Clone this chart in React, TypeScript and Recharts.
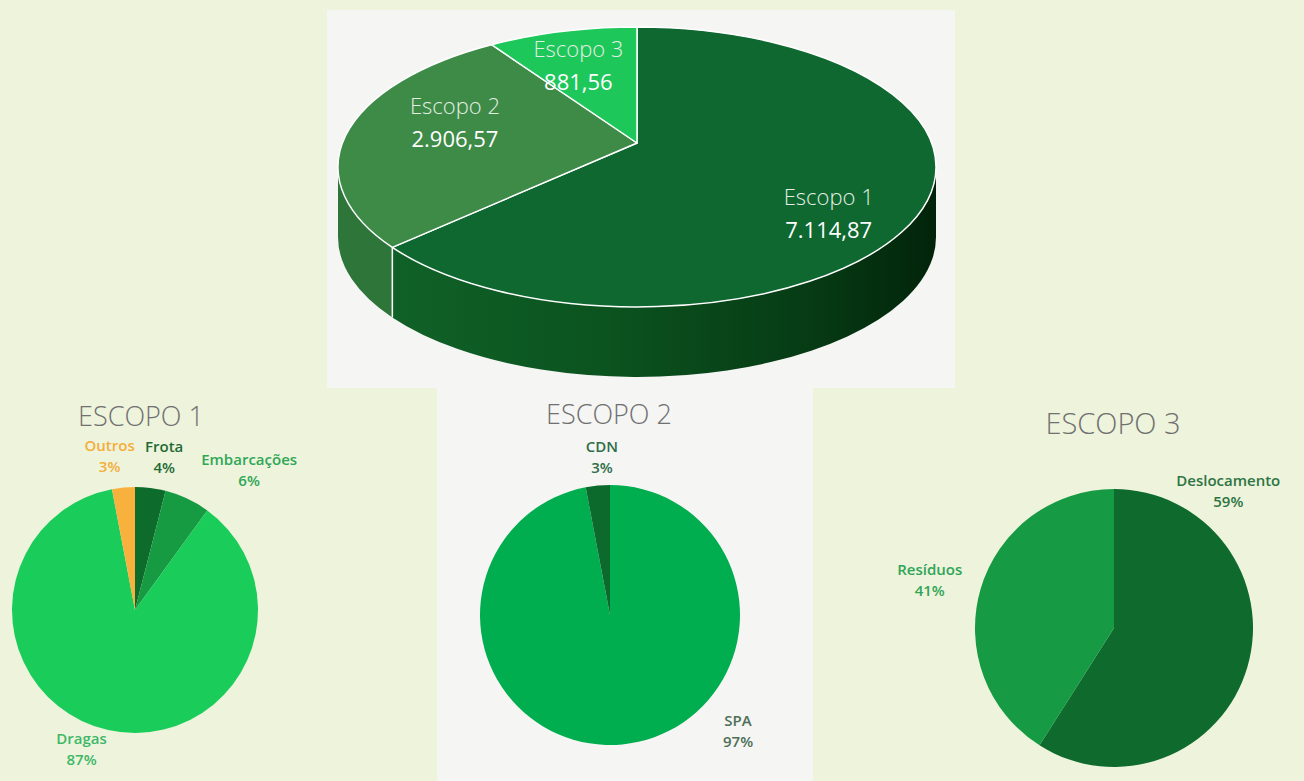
import React from "react";
import { PieChart, Pie, Cell } from "recharts";

// emissões totais por escopo
const scopeNames = ["Escopo 1", "Escopo 2", "Escopo 3"];
const scopeValues = [7114.87, 2906.57, 881.56];

// detalhamento (%)
const scope1Names = ["Frota", "Embarcações", "Dragas", "Outros"];
const scope1Values = [4, 6, 87, 3];

const scope2Names = ["SPA", "CDN"];
const scope2Values = [97, 3];

const scope3Names = ["Deslocamento", "Resíduos"];
const scope3Values = [59, 41];

const PAGE_BG = "#EEF3DC";
const BOX_BG = "#F5F5F4";
const FONT = "'Open Sans', 'Noto Sans', sans-serif";
const NO_MARGIN = { top: 0, right: 0, bottom: 0, left: 0 };

const TILT = 0.468;
const DEPTH = 70;
const LIFT = 24;
const RAD = Math.PI / 180;

const topColors = ["#0E6830", "#3D8B47", "#1EC75A"];
const sideColors = ["url(#side-grad-0)", "#2E753A", "#17A04A"];
const topLabelNudge = [
	[6, 0],
	[22, -24],
	[-6, -8],
];

const s1Colors = ["#0D6B2B", "#169B43", "#1ACD5B", "#F9B13D"];
const s1Text = ["#1E6B34", "#2FA757", "#3DB868", "#F4AE3A"];
const s1Nudge = [
	[10, -2],
	[49, -2],
	[-20, -11],
	[-11, -2],
];

const s2Colors = ["#00AD4F", "#0D6A2D"];
const s2Text = ["#4D6F57", "#2F6E46"];
const s2Nudge = [
	[113, -44],
	[7, 1],
];

const s3Colors = ["#0E6A2D", "#169A44"];
const s3Text = ["#2D7443", "#2FA557"];
const s3Nudge = [
	[-48, -185],
	[-22, -1],
];

const fmtBR = (n: number) => {
	const [i, d] = n.toFixed(2).split(".");
	return i.replace(/\B(?=(\d{3})+(?!\d))/g, ".") + "," + d;
};

const toRows = (names: string[], values: number[]) =>
	names.map((name, i) => ({ name, value: values[i] }));

const ell = (cx: number, cy: number, rx: number, ry: number, a: number) => [
	cx + rx * Math.cos(a * RAD),
	cy - ry * Math.sin(a * RAD),
];

const nameOf = (p: any) => p.name ?? p.payload?.name;

// fatia com tampo elíptico e parede frontal
const Slice3D = (props: any) => {
	const { cx, cy, outerRadius, startAngle, endAngle, fill } = props;
	const idx = Math.max(0, scopeNames.indexOf(nameOf(props)));
	const rx = outerRadius;
	const ry = outerRadius * TILT;
	const [sx, sy] = ell(cx, cy, rx, ry, startAngle);
	const [ex, ey] = ell(cx, cy, rx, ry, endAngle);
	const large = Math.abs(startAngle - endAngle) > 180 ? 1 : 0;
	const sweep = endAngle < startAngle ? 1 : 0;
	const top = `M${cx},${cy - LIFT}L${sx},${sy}A${rx},${ry} 0 ${large} ${sweep} ${ex},${ey}Z`;

	const lo = Math.min(startAngle, endAngle);
	const hi = Math.max(startAngle, endAngle);
	const walls: string[] = [];
	const edges: number[][] = [];
	[-1, 0].forEach((k) => {
		const a = Math.max(lo, 180 + 360 * k);
		const b = Math.min(hi, 360 + 360 * k);
		if (b <= a) return;
		const [ax, ay] = ell(cx, cy, rx, ry, a);
		const [bx, by] = ell(cx, cy, rx, ry, b);
		walls.push(
			`M${ax},${ay}A${rx},${ry} 0 0 0 ${bx},${by}L${bx},${by + DEPTH}A${rx},${ry} 0 0 1 ${ax},${ay + DEPTH}Z`
		);
		if (a > 180 + 360 * k) edges.push([ax, ay]);
		if (b < 360 + 360 * k) edges.push([bx, by]);
	});

	return (
		<g>
			<defs>
				<linearGradient
					id={`side-grad-${idx}`}
					gradientUnits="userSpaceOnUse"
					x1={cx - rx}
					y1={0}
					x2={cx + rx}
					y2={0}
				>
					<stop offset="0%" stopColor="#11652A" />
					<stop offset="45%" stopColor="#0B531F" />
					<stop offset="80%" stopColor="#063A14" />
					<stop offset="100%" stopColor="#02240A" />
				</linearGradient>
			</defs>
			{walls.map((d, i) => (
				<path key={i} d={d} fill={sideColors[idx]} />
			))}
			{edges.map(([x, y], i) => (
				<line key={i} x1={x} y1={y} x2={x} y2={y + DEPTH} stroke="#fff" strokeWidth={1.5} />
			))}
			<path d={top} fill={fill} stroke="#fff" strokeWidth={1.5} strokeLinejoin="round" />
		</g>
	);
};

const renderTopLabel = (p: any) => {
	const { cx, cy, midAngle, outerRadius } = p;
	const idx = scopeNames.indexOf(nameOf(p));
	const [x0, y0] = ell(cx, cy, outerRadius * 0.7, outerRadius * TILT * 0.7, midAngle);
	const x = x0 + topLabelNudge[idx][0];
	const y = y0 + topLabelNudge[idx][1];
	return (
		<g>
			<text
				x={x}
				y={y - 16}
				textAnchor="middle"
				dominantBaseline="central"
				fill="#E4EEE4"
				fontFamily={FONT}
				fontSize={22}
				fontWeight={300}
			>
				{scopeNames[idx]}
			</text>
			<text
				x={x}
				y={y + 17}
				textAnchor="middle"
				dominantBaseline="central"
				fill="#FFFFFF"
				fontFamily={FONT}
				fontSize={22}
			>
				{fmtBR(scopeValues[idx])}
			</text>
		</g>
	);
};

const makeLabel =
	(names: string[], values: number[], colors: string[], nudge: number[][]) => (p: any) => {
		const { cx, cy, midAngle, outerRadius } = p;
		const idx = names.indexOf(nameOf(p));
		const [x0, y0] = ell(cx, cy, outerRadius + 30, outerRadius + 30, midAngle);
		const x = x0 + nudge[idx][0];
		const y = y0 + nudge[idx][1];
		return (
			<g>
				<text
					x={x}
					y={y - 10.5}
					textAnchor="middle"
					dominantBaseline="central"
					fill={colors[idx]}
					fontFamily={FONT}
					fontSize={15}
					fontWeight={600}
				>
					{names[idx]}
				</text>
				<text
					x={x}
					y={y + 10.5}
					textAnchor="middle"
					dominantBaseline="central"
					fill={colors[idx]}
					fontFamily={FONT}
					fontSize={15}
					fontWeight={600}
				>
					{values[idx]}%
				</text>
			</g>
		);
	};

const Title = ({ text, x, y, size }: { text: string; x: number; y: number; size: number }) => (
	<div
		style={{
			position: "absolute",
			left: x,
			top: y,
			transform: "translate(-50%, -50%)",
			fontFamily: FONT,
			fontSize: size,
			fontWeight: 300,
			lineHeight: 1,
			color: "#707070",
			whiteSpace: "nowrap",
		}}
	>
		{text}
	</div>
);

type SmallProps = {
	names: string[];
	values: number[];
	colors: string[];
	text: string[];
	nudge: number[][];
	width: number;
	cx: number;
	cy: number;
	r: number;
};

const SmallPie = ({ names, values, colors, text, nudge, width, cx, cy, r }: SmallProps) => (
	<PieChart width={width} height={393} margin={NO_MARGIN}>
		<Pie
			data={toRows(names, values)}
			dataKey="value"
			cx={cx}
			cy={cy}
			outerRadius={r}
			startAngle={90}
			endAngle={-270}
			stroke="none"
			label={makeLabel(names, values, text, nudge)}
			labelLine={false}
			isAnimationActive={false}
		>
			{names.map((n, i) => (
				<Cell key={n} fill={colors[i]} />
			))}
		</Pie>
	</PieChart>
);

export default function App() {
	return (
		<div
			style={{
				position: "absolute",
				left: 0,
				top: 0,
				width: 1304,
				height: 781,
				background: PAGE_BG,
				overflow: "hidden",
				fontFamily: FONT,
			}}
		>
			<div style={{ position: "absolute", left: 327, top: 10, width: 628, height: 378, background: BOX_BG }}>
				<PieChart width={628} height={378} margin={NO_MARGIN}>
					<Pie
						data={toRows(scopeNames, scopeValues)}
						dataKey="value"
						cx={310}
						cy={157}
						outerRadius={299}
						startAngle={90}
						endAngle={-270}
						shape={Slice3D}
						label={renderTopLabel}
						labelLine={false}
						isAnimationActive={false}
					>
						{scopeNames.map((n, i) => (
							<Cell key={n} fill={topColors[i]} />
						))}
					</Pie>
				</PieChart>
			</div>

			<div style={{ position: "absolute", left: 0, top: 388, width: 437, height: 393 }}>
				<SmallPie
					names={scope1Names}
					values={scope1Values}
					colors={s1Colors}
					text={s1Text}
					nudge={s1Nudge}
					width={437}
					cx={135}
					cy={222}
					r={123}
				/>
			</div>
			<div style={{ position: "absolute", left: 437, top: 388, width: 376, height: 393, background: BOX_BG }}>
				<SmallPie
					names={scope2Names}
					values={scope2Values}
					colors={s2Colors}
					text={s2Text}
					nudge={s2Nudge}
					width={376}
					cx={173}
					cy={227}
					r={130}
				/>
			</div>
			<div style={{ position: "absolute", left: 812, top: 388, width: 492, height: 393 }}>
				<SmallPie
					names={scope3Names}
					values={scope3Values}
					colors={s3Colors}
					text={s3Text}
					nudge={s3Nudge}
					width={492}
					cx={302}
					cy={240}
					r={139}
				/>
			</div>

			<Title text="ESCOPO 1" x={141} y={415} size={27} />
			<Title text="ESCOPO 2" x={609} y={413} size={27} />
			<Title text="ESCOPO 3" x={1113} y={422} size={29} />
		</div>
	);
}
